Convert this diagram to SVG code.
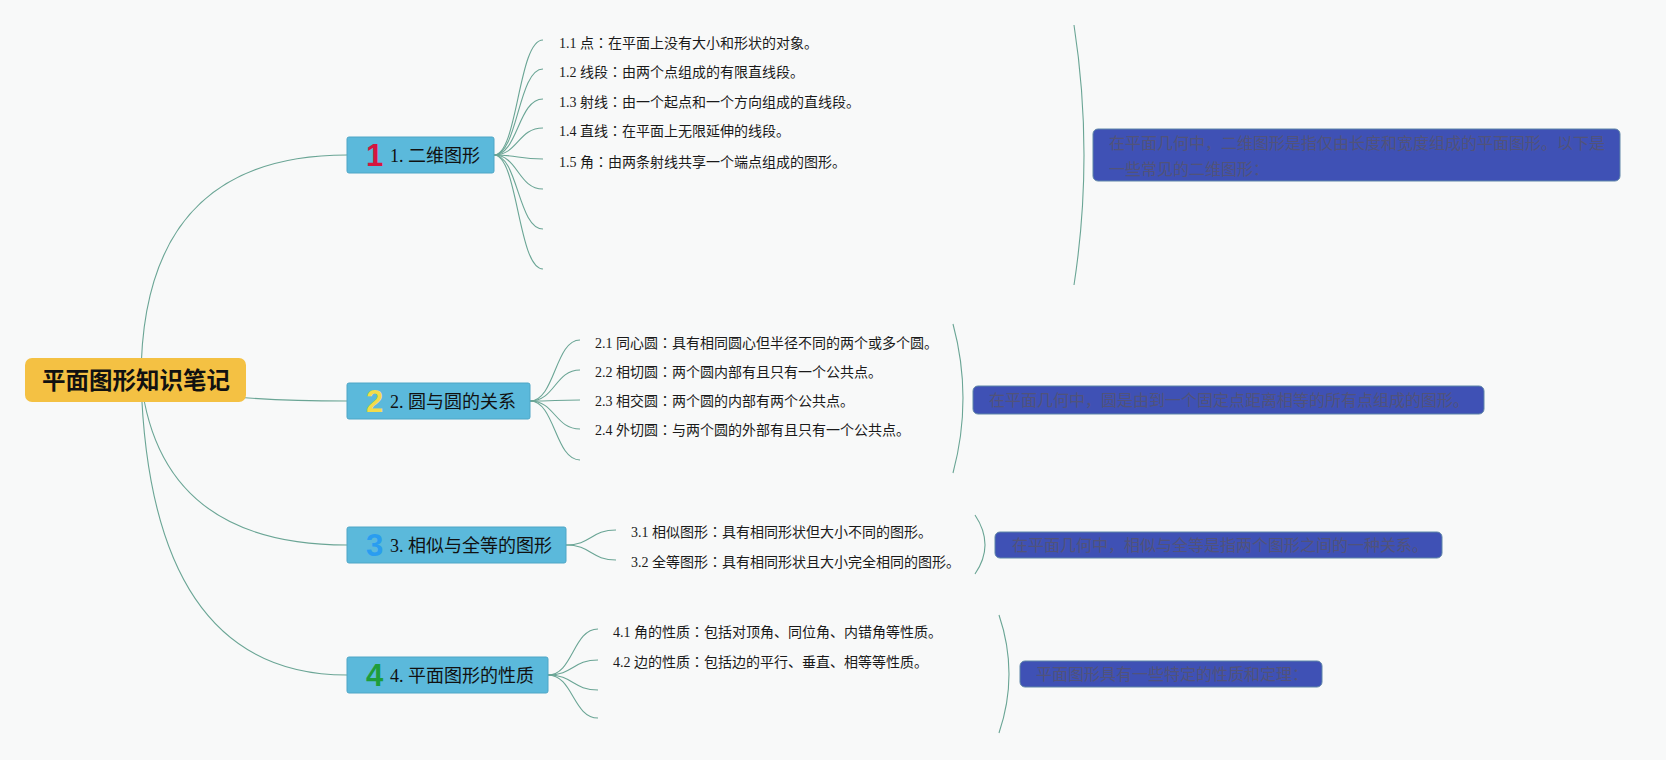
<svg xmlns="http://www.w3.org/2000/svg" width="1666" height="760" viewBox="0 0 1666 760">
<style>
.bg{fill:#f8f9f9}
.con{fill:none;stroke:#6aa595;stroke-width:1.1}
.root{fill:#f4c143}
.rootT{font-family:"Noto Sans CJK SC","Noto Sans",sans-serif;font-weight:bold;font-size:23.5px;fill:#111}
.node{fill:#5bb9db;stroke:#4ea6c6;stroke-width:1}
.nodeT{font-family:"Liberation Serif","Noto Sans CJK SC",serif;font-size:18px;fill:#111}
.badge{font-family:"Liberation Sans",sans-serif;font-weight:bold;font-size:31px}
.leaf{font-family:"Liberation Serif","Noto Sans CJK SC",serif;font-size:14px;fill:#1a1a1a}
.c{font-family:"Noto Sans CJK JP","Noto Sans CJK TC",sans-serif}
.note{fill:#3f51b5;stroke:#5f86a8;stroke-width:1}
.noteT{font-family:"Noto Sans CJK SC","Noto Sans",sans-serif;font-size:16px;fill:#51537a}
</style>
<rect class="bg" x="0" y="0" width="1666" height="760"/>
<g id="connectors">
<path class="con" d="M141,380 Q141,155 347,155"/>
<path class="con" d="M141,380 Q200,401 347,401"/>
<path class="con" d="M141,380 Q160,545 347,545"/>
<path class="con" d="M141,380 Q150,675 347,675"/>
<path class="con" d="M494,155 C518,155 518,40 543,40"/>
<path class="con" d="M494,155 C518,155 518,69 543,69"/>
<path class="con" d="M494,155 C518,155 518,99 543,99"/>
<path class="con" d="M494,155 C518,155 518,128 543,128"/>
<path class="con" d="M494,155 C518,155 518,159 543,159"/>
<path class="con" d="M494,155 C518,155 518,189 543,189"/>
<path class="con" d="M494,155 C518,155 518,229 543,229"/>
<path class="con" d="M494,155 C518,155 518,269 543,269"/>
<path class="con" d="M530,401 C555,401 555,340 580,340"/>
<path class="con" d="M530,401 C555,401 555,370 580,370"/>
<path class="con" d="M530,401 C555,401 555,400 580,400"/>
<path class="con" d="M530,401 C555,401 555,429 580,429"/>
<path class="con" d="M530,401 C555,401 555,460 580,460"/>
<path class="con" d="M566,545 C591,545 591,530 616,530"/>
<path class="con" d="M566,545 C591,545 591,560 616,560"/>
<path class="con" d="M548,675 C573,675 573,629 598,629"/>
<path class="con" d="M548,675 C573,675 573,660 598,660"/>
<path class="con" d="M548,675 C573,675 573,690 598,690"/>
<path class="con" d="M548,675 C573,675 573,718 598,718"/>
<path class="con" d="M1074,25 Q1094,155 1074,285"/>
<path class="con" d="M953,324 Q973,398 953,473"/>
<path class="con" d="M975,515 Q995,545 975,574"/>
<path class="con" d="M999,615 Q1019,674 999,733"/>
</g>
<g id="root">
<rect class="root" x="25" y="358" width="221" height="44" rx="7"/>
<text class="rootT" x="136" y="389" text-anchor="middle">平面图形知识笔记</text>
</g>
<g id="node1">
<rect class="node" x="347" y="137" width="147" height="36" rx="2"/>
<text class="badge" x="374.5" y="166" text-anchor="middle" fill="#d5163f">1</text>
<text class="nodeT" x="390" y="161.5">1. 二维图形</text>
</g>
<g id="node2">
<rect class="node" x="347" y="383" width="183" height="36" rx="2"/>
<text class="badge" x="374.5" y="412" text-anchor="middle" fill="#f2dc4a">2</text>
<text class="nodeT" x="390" y="407.5">2. 圆与圆的关系</text>
</g>
<g id="node3">
<rect class="node" x="347" y="527" width="219" height="36" rx="2"/>
<text class="badge" x="374.5" y="556" text-anchor="middle" fill="#2a9df0">3</text>
<text class="nodeT" x="390" y="551.5">3. 相似与全等的图形</text>
</g>
<g id="node4">
<rect class="node" x="347" y="657" width="201" height="36" rx="2"/>
<text class="badge" x="374.5" y="686" text-anchor="middle" fill="#1e9d3b">4</text>
<text class="nodeT" x="390" y="681.5">4. 平面图形的性质</text>
</g>
<g id="leaf1-1"><text class="leaf" x="559" y="48">1.1 点<tspan class="c">：</tspan>在平面上没有大小和形状的对象。</text></g>
<g id="leaf1-2"><text class="leaf" x="559" y="77">1.2 线段<tspan class="c">：</tspan>由两个点组成的有限直线段。</text></g>
<g id="leaf1-3"><text class="leaf" x="559" y="107">1.3 射线<tspan class="c">：</tspan>由一个起点和一个方向组成的直线段。</text></g>
<g id="leaf1-4"><text class="leaf" x="559" y="136">1.4 直线<tspan class="c">：</tspan>在平面上无限延伸的线段。</text></g>
<g id="leaf1-5"><text class="leaf" x="559" y="167">1.5 角<tspan class="c">：</tspan>由两条射线共享一个端点组成的图形。</text></g>
<g id="leaf2-1"><text class="leaf" x="595" y="348">2.1 同心圆<tspan class="c">：</tspan>具有相同圆心但半径不同的两个或多个圆。</text></g>
<g id="leaf2-2"><text class="leaf" x="595" y="377">2.2 相切圆<tspan class="c">：</tspan>两个圆内部有且只有一个公共点。</text></g>
<g id="leaf2-3"><text class="leaf" x="595" y="406">2.3 相交圆<tspan class="c">：</tspan>两个圆的内部有两个公共点。</text></g>
<g id="leaf2-4"><text class="leaf" x="595" y="435">2.4 外切圆<tspan class="c">：</tspan>与两个圆的外部有且只有一个公共点。</text></g>
<g id="leaf3-1"><text class="leaf" x="631" y="537">3.1 相似图形<tspan class="c">：</tspan>具有相同形状但大小不同的图形。</text></g>
<g id="leaf3-2"><text class="leaf" x="631" y="567">3.2 全等图形<tspan class="c">：</tspan>具有相同形状且大小完全相同的图形。</text></g>
<g id="leaf4-1"><text class="leaf" x="613" y="637">4.1 角的性质<tspan class="c">：</tspan>包括对顶角、同位角、内错角等性质。</text></g>
<g id="leaf4-2"><text class="leaf" x="613" y="667">4.2 边的性质<tspan class="c">：</tspan>包括边的平行、垂直、相等等性质。</text></g>
<g id="note1">
<rect class="note" x="1093" y="129" width="527" height="52" rx="5"/>
<text class="noteT" x="1109" y="149">在平面几何中，二维图形是指仅由长度和宽度组成的平面图形。以下是</text>
<text class="noteT" x="1109" y="175">一些常见的二维图形：</text>
</g>
<g id="note2">
<rect class="note" x="973" y="386" width="511" height="28" rx="5"/>
<text class="noteT" x="989" y="405.5">在平面几何中，圆是由到一个固定点距离相等的所有点组成的图形。</text>
</g>
<g id="note3">
<rect class="note" x="995" y="532" width="447" height="26" rx="5"/>
<text class="noteT" x="1012" y="550.5">在平面几何中，相似与全等是指两个图形之间的一种关系。</text>
</g>
<g id="note4">
<rect class="note" x="1020" y="661" width="302" height="26" rx="5"/>
<text class="noteT" x="1036" y="679.5">平面图形具有一些特定的性质和定理：</text>
</g>
</svg>
